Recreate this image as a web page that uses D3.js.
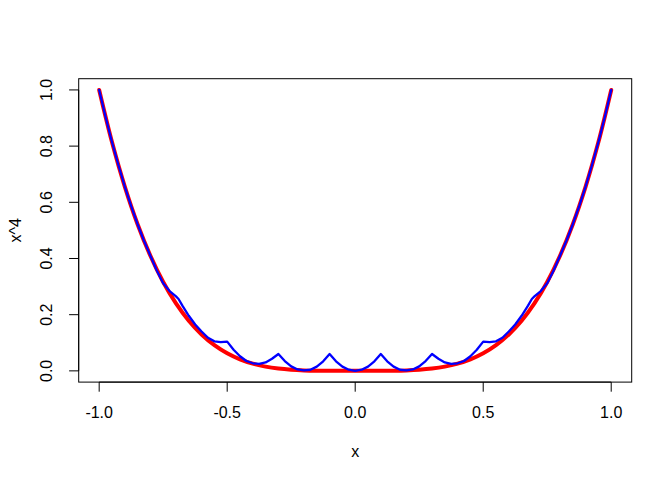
<!DOCTYPE html>
<html>
<head>
<meta charset="utf-8">
<script src="https://cdn.jsdelivr.net/npm/d3@7"></script>
<style>
  body { margin: 0; background: #fff; }
  svg { display: block; }
  text { font-family: "Liberation Sans", Arial, Helvetica, sans-serif; fill: #000; }
</style>
</head>
<body>
<div id="chart"></div>
<script>
// red curve: x^4 read at steps of 0.05
var redX = [-1, -0.95, -0.9, -0.85, -0.8, -0.75, -0.7, -0.65, -0.6, -0.55, -0.5, -0.45, -0.4, -0.35, -0.3, -0.25, -0.2, -0.15, -0.1, -0.05,
  0, 0.05, 0.1, 0.15, 0.2, 0.25, 0.3, 0.35, 0.4, 0.45, 0.5, 0.55, 0.6, 0.65, 0.7, 0.75, 0.8, 0.85, 0.9, 0.95, 1];
var redY = [1, 0.8145, 0.6561, 0.522, 0.4096, 0.3164, 0.2401, 0.1785, 0.1296, 0.0915, 0.0625, 0.041, 0.0256, 0.015, 0.0081, 0.0039, 0.0016, 0.0005, 0.0001, 0,
  0, 0, 0.0001, 0.0005, 0.0016, 0.0039, 0.0081, 0.015, 0.0256, 0.041, 0.0625, 0.0915, 0.1296, 0.1785, 0.2401, 0.3164, 0.4096, 0.522, 0.6561, 0.8145, 1];

// blue curve: approximation with bumps
var blueX = [-1, -0.975, -0.95, -0.925, -0.9, -0.875, -0.85, -0.825, -0.8, -0.775, -0.75, -0.725, -0.7, -0.69, -0.675, -0.65, -0.625, -0.6, -0.575, -0.55, -0.525,
  -0.5, -0.475, -0.45, -0.425, -0.4, -0.375, -0.35, -0.325, -0.3, -0.275, -0.25, -0.225, -0.2, -0.175, -0.15, -0.125, -0.1, -0.075, -0.05, -0.025,
  0, 0.025, 0.05, 0.075, 0.1, 0.125, 0.15, 0.175, 0.2, 0.225, 0.25, 0.275, 0.3, 0.325, 0.35, 0.375, 0.4, 0.425, 0.45, 0.475,
  0.5, 0.525, 0.55, 0.575, 0.6, 0.625, 0.65, 0.675, 0.69, 0.7, 0.725, 0.75, 0.775, 0.8, 0.825, 0.85, 0.875, 0.9, 0.925, 0.95, 0.975, 1];
var blueY = [1, 0.9037, 0.8145, 0.7327, 0.6561, 0.5862, 0.522, 0.4632, 0.41, 0.357, 0.312, 0.284, 0.265, 0.256, 0.232, 0.196, 0.165, 0.14, 0.118, 0.105, 0.102,
  0.104, 0.075, 0.052, 0.035, 0.027, 0.0245, 0.03, 0.043, 0.06, 0.035, 0.016, 0.005, 0.0016, 0.004, 0.015, 0.034, 0.06, 0.034, 0.015, 0.004,
  0, 0.004, 0.015, 0.034, 0.06, 0.034, 0.015, 0.004, 0.0016, 0.005, 0.016, 0.035, 0.06, 0.043, 0.03, 0.0245, 0.027, 0.035, 0.052, 0.075,
  0.104, 0.102, 0.105, 0.118, 0.14, 0.165, 0.196, 0.232, 0.256, 0.265, 0.284, 0.312, 0.357, 0.41, 0.4632, 0.522, 0.5862, 0.6561, 0.7327, 0.8145, 0.9037, 1];

var xTicks = [-1, -0.5, 0, 0.5, 1];
var yTicks = [0, 0.2, 0.4, 0.6, 0.8, 1];

var width = 672, height = 480;
var margin = {top: 78.7, right: 40.3, bottom: 97.9, left: 78.7};
var plotLeft = margin.left, plotRight = width - margin.right;
var plotTop = margin.top, plotBottom = height - margin.bottom;

var svg = d3.select('#chart').append('svg')
  .attr('width', width)
  .attr('height', height);

// R style 4% padding
var x = d3.scaleLinear().domain([-1.08, 1.08]).range([plotLeft, plotRight]);
var y = d3.scaleLinear().domain([-0.04, 1.04]).range([plotBottom, plotTop]);

function pts(xs, ys) {
  return xs.map(function(d, i) { return [d, ys[i]]; });
}

// box
svg.append('rect')
  .attr('x', plotLeft).attr('y', plotTop)
  .attr('width', plotRight - plotLeft).attr('height', plotBottom - plotTop)
  .attr('fill', 'none').attr('stroke', '#000').attr('stroke-width', 1);

// x axis
var xAxis = svg.append('g');
xAxis.append('line')
  .attr('x1', x(-1)).attr('x2', x(1))
  .attr('y1', plotBottom).attr('y2', plotBottom)
  .attr('stroke', '#000');
xAxis.selectAll('.tick').data(xTicks).enter().append('line')
  .attr('x1', function(d) { return x(d); })
  .attr('x2', function(d) { return x(d); })
  .attr('y1', plotBottom).attr('y2', plotBottom + 9.6)
  .attr('stroke', '#000');
xAxis.selectAll('.lab').data(xTicks).enter().append('text')
  .attr('x', function(d) { return x(d); })
  .attr('y', 418)
  .attr('text-anchor', 'middle')
  .attr('font-size', 16)
  .text(function(d) { return d.toFixed(1); });

// y axis
var yAxis = svg.append('g');
yAxis.append('line')
  .attr('x1', plotLeft).attr('x2', plotLeft)
  .attr('y1', y(0)).attr('y2', y(1))
  .attr('stroke', '#000');
yAxis.selectAll('.tick').data(yTicks).enter().append('line')
  .attr('x1', plotLeft).attr('x2', plotLeft - 9.6)
  .attr('y1', function(d) { return y(d); })
  .attr('y2', function(d) { return y(d); })
  .attr('stroke', '#000');
yAxis.selectAll('.lab').data(yTicks).enter().append('text')
  .attr('transform', function(d) { return 'translate(52,' + y(d) + ') rotate(-90)'; })
  .attr('text-anchor', 'middle')
  .attr('font-size', 16)
  .text(function(d) { return d.toFixed(1); });

// axis titles
svg.append('text')
  .attr('x', (plotLeft + plotRight) / 2).attr('y', 457)
  .attr('text-anchor', 'middle')
  .attr('font-size', 16)
  .text('x');
svg.append('text')
  .attr('transform', 'translate(20.5,' + (plotTop + plotBottom) / 2 + ') rotate(-90)')
  .attr('text-anchor', 'middle')
  .attr('font-size', 16)
  .text('x^4');

var redLine = d3.line()
  .x(function(d) { return x(d[0]); })
  .y(function(d) { return y(d[1]); })
  .curve(d3.curveCatmullRom);

var blueLine = d3.line()
  .x(function(d) { return x(d[0]); })
  .y(function(d) { return y(d[1]); });

svg.append('path')
  .attr('d', redLine(pts(redX, redY)))
  .attr('fill', 'none')
  .attr('stroke', '#ff0000')
  .attr('stroke-width', 4)
  .attr('stroke-linejoin', 'round')
  .attr('stroke-linecap', 'round');

svg.append('path')
  .attr('d', blueLine(pts(blueX, blueY)))
  .attr('fill', 'none')
  .attr('stroke', '#0000ff')
  .attr('stroke-width', 2.3)
  .attr('stroke-linejoin', 'round')
  .attr('stroke-linecap', 'round');
</script>
</body>
</html>
